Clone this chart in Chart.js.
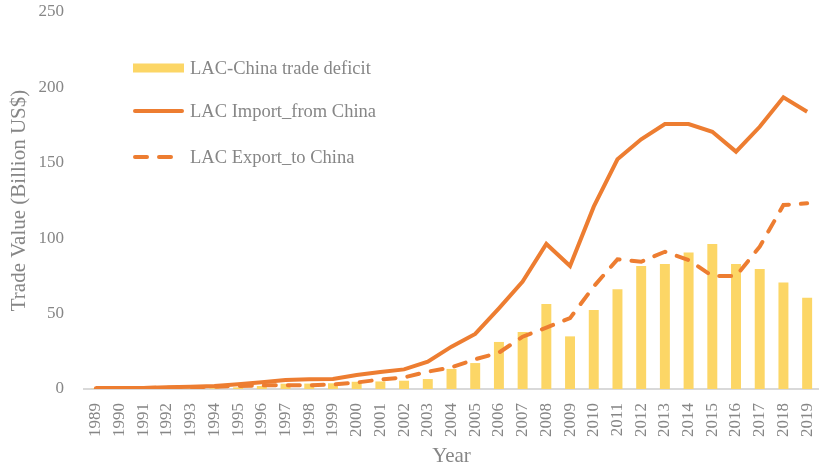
<!DOCTYPE html>
<html>
<head>
<meta charset="utf-8">
<script src="https://cdn.jsdelivr.net/npm/chart.js@4"></script>
<style>
  html, body { margin: 0; padding: 0; background: #fff; }
</style>
</head>
<body>
<canvas id="tradeChart" width="819" height="469"></canvas>
<script>
const years = ['1989', '1990', '1991', '1992', '1993', '1994', '1995', '1996', '1997', '1998',
    '1999', '2000', '2001', '2002', '2003', '2004', '2005', '2006', '2007', '2008',
    '2009', '2010', '2011', '2012', '2013', '2014', '2015', '2016', '2017', '2018', '2019'];

// Billion US$
const tradeDeficit = [0.2, 0.2, 0.1, 0.2, 0.3, 0.5, 1.1, 2.0, 3.5, 3.6,
    3.8, 4.8, 5.0, 5.5, 6.6, 13.3, 17.2, 31.2, 37.8, 56.4,
    34.9, 52.4, 66.1, 81.6, 82.9, 90.6, 96.2, 82.9, 79.6, 70.7, 60.5];
const importFromChina = [0.7, 0.7, 0.7, 1.1, 1.5, 2.0, 3.1, 4.4, 6.0, 6.4,
    6.6, 9.3, 11.3, 13.0, 18.1, 28.1, 36.5, 53.5, 71.2, 96.2,
    81.6, 120.9, 152.3, 165.6, 175.7, 175.7, 170.6, 157.4, 173.9, 193.4, 183.9];
const exportToChina = [0.5, 0.5, 0.6, 0.9, 1.2, 1.5, 2.0, 2.4, 2.5, 2.5,
    3.0, 4.3, 6.3, 7.7, 11.5, 14.4, 19.7, 24.1, 34.7, 40.7,
    47.0, 68.0, 86.0, 84.4, 91.0, 85.5, 74.9, 74.9, 94.4, 122.0, 123.1];

const yTicks = [0, 50, 100, 150, 200, 250];

const FONT = 'Liberation Serif';
const GREY = '#868686';
const YELLOW = '#fcd666';
const ORANGE = '#ed7d31';

// legend drawn inside the plot, stacked vertically
const insideLegend = {
    id: 'insideLegend',
    afterDraw(chart) {
        const ctx = chart.ctx;
        const area = chart.chartArea;
        const x0 = area.left + 49;
        const x1 = x0 + 51;
        const rows = [area.top + 56, area.top + 99, area.top + 145];
        ctx.save();
        ctx.font = '18.5px ' + FONT;
        ctx.textBaseline = 'middle';
        chart.data.datasets.forEach((ds, i) => {
            const y = rows[i];
            if (ds.type === 'bar') {
                ctx.fillStyle = ds.backgroundColor;
                ctx.fillRect(x0, y - 4.5, x1 - x0, 9);
            } else {
                ctx.strokeStyle = ds.borderColor;
                ctx.lineWidth = ds.borderWidth;
                ctx.lineCap = 'round';
                ctx.setLineDash(ds.borderDash || []);
                ctx.beginPath();
                ctx.moveTo(x0 + 2, y);
                ctx.lineTo(x1 - 2, y);
                ctx.stroke();
                ctx.setLineDash([]);
            }
            ctx.fillStyle = GREY;
            ctx.fillText(ds.label, x1 + 6, y + 1);
        });
        ctx.restore();
    }
};

new Chart(document.getElementById('tradeChart'), {
    data: {
        labels: years,
        datasets: [
            {
                type: 'bar',
                label: 'LAC-China trade deficit',
                data: tradeDeficit,
                backgroundColor: YELLOW,
                barPercentage: 0.42,
                categoryPercentage: 1,
                order: 3
            },
            {
                type: 'line',
                label: 'LAC Import_from China',
                data: importFromChina,
                borderColor: ORANGE,
                borderWidth: 4,
                pointRadius: 0,
                tension: 0,
                order: 1
            },
            {
                type: 'line',
                label: 'LAC Export_to China',
                data: exportToChina,
                borderColor: ORANGE,
                borderWidth: 4,
                borderDash: [12, 12],
                borderCapStyle: 'round',
                pointRadius: 0,
                tension: 0,
                order: 2
            }
        ]
    },
    options: {
        responsive: false,
        animation: false,
        layout: { padding: { top: 12, right: 0, left: 0, bottom: 0 } },
        plugins: {
            legend: { display: false },
            tooltip: { enabled: false }
        },
        scales: {
            x: {
                offset: true,
                grid: { display: false },
                border: { color: '#d9d9d9', width: 2 },
                ticks: {
                    color: GREY,
                    font: { family: FONT, size: 17 },
                    minRotation: 90,
                    maxRotation: 90,
                    padding: 6,
                    autoSkip: false
                },
                title: {
                    display: true,
                    text: 'Year',
                    color: GREY,
                    font: { family: FONT, size: 21 },
                    padding: { top: 2, bottom: 0 }
                },
                afterFit(scale) {
                    scale.height = 80;
                    scale.paddingLeft = 0;
                    scale.paddingRight = 0;
                }
            },
            y: {
                min: 0,
                max: 250,
                grid: { display: false },
                border: { display: false },
                afterBuildTicks(scale) {
                    scale.ticks = yTicks.map(v => ({ value: v }));
                },
                ticks: {
                    color: GREY,
                    font: { family: FONT, size: 17 },
                    padding: 12
                },
                title: {
                    display: true,
                    text: 'Trade Value (Billion US$)',
                    color: GREY,
                    font: { family: FONT, size: 21 },
                    padding: { top: 7, bottom: 0 }
                },
                afterFit(scale) {
                    scale.width = 84;
                    scale.paddingTop = 0;
                    scale.paddingBottom = 0;
                }
            }
        }
    },
    plugins: [insideLegend]
});
</script>
</body>
</html>
